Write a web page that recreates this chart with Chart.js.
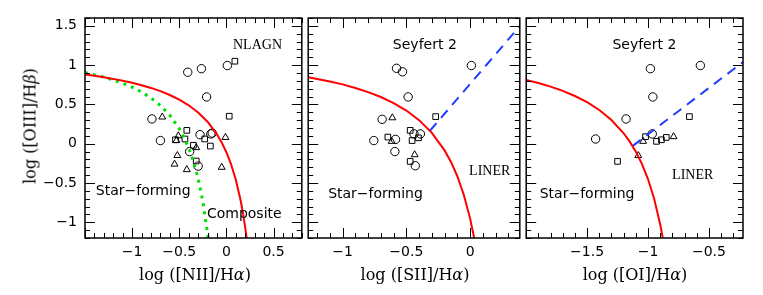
<!DOCTYPE html>
<html>
<head>
<meta charset="utf-8">
<script src="https://cdn.jsdelivr.net/npm/chart.js@4.4.0/dist/chart.umd.min.js"></script>
<style>
  body { margin: 0; background: #fff; width: 763px; height: 295px; position: relative; overflow: hidden; }
  canvas { position: absolute; top: 0; }
  .t { position: absolute; font-family: "DejaVu Serif"; font-size: 16px; color: #000; white-space: nowrap; transform: translate(-50%, -50%); }
</style>
</head>
<body>
<canvas id="c1" width="307" height="295" style="left:0"></canvas>
<canvas id="c2" width="222" height="295" style="left:303px"></canvas>
<canvas id="c3" width="242" height="295" style="left:521px"></canvas>

<div class="t" style="left:30px;top:126px;transform:translate(-50%,-50%) rotate(-90deg)">log ([OIII]/H<i>β</i>)</div>
<div class="t" style="left:195px;top:274px">log ([NII]/H<i>α</i>)</div>
<div class="t" style="left:415px;top:274px">log ([SII]/H<i>α</i>)</div>
<div class="t" style="left:635px;top:274px">log ([OI]/H<i>α</i>)</div>

<script>
// tick labels
const yTicks = [-1, -0.5, 0, 0.5, 1, 1.5];
const niiTicks = [-1, -0.5, 0, 0.5];
const siiTicks = [-1, -0.5, 0];
const oiTicks = [-1.5, -1, -0.5];

// [NII] panel, [x, y]
const niiCircles = [[-0.41, 0.91], [-0.265, 0.955], [0.01, 0.995], [-0.21, 0.595], [-0.79, 0.315],
  [-0.70, 0.04], [-0.28, 0.115], [-0.165, 0.125], [-0.15, 0.135], [-0.39, -0.10], [-0.30, -0.285]];
const niiSquares = [[0.09, 1.05], [0.03, 0.35], [-0.42, 0.17], [-0.54, 0.05], [-0.44, 0.06],
  [-0.35, -0.02], [-0.23, 0.06], [-0.17, -0.03], [-0.32, -0.22]];
const niiTriangles = [[-0.68, 0.34], [-0.51, 0.10], [-0.53, 0.04], [-0.32, -0.05], [-0.01, 0.08],
  [-0.52, -0.15], [-0.55, -0.26], [-0.42, -0.33], [-0.05, -0.30]];

// [SII] panel
const siiCircles = [[-0.577, 0.96], [-0.53, 0.915], [0.01, 0.995], [-0.486, 0.595], [-0.69, 0.31],
  [-0.755, 0.04], [-0.585, 0.055], [-0.59, -0.10], [-0.43, -0.28], [-0.44, 0.125], [-0.39, 0.125]];
const siiSquares = [[-0.27, 0.345], [-0.645, 0.085], [-0.47, 0.17], [-0.455, 0.04], [-0.405, 0.075], [-0.47, -0.225]];
const siiTriangles = [[-0.61, 0.33], [-0.615, 0.03], [-0.435, -0.14]];

// [OI] panel
const oiCircles = [[-0.98, 0.955], [-0.57, 0.995], [-0.96, 0.595], [-1.18, 0.315], [-1.43, 0.06], [-0.965, 0.125]];
const oiSquares = [[-0.66, 0.345], [-1.02, 0.09], [-0.93, 0.03], [-0.89, 0.05], [-0.85, 0.08], [-1.25, -0.225]];
const oiTriangles = [[-1.04, 0.03], [-0.79, 0.09], [-1.08, -0.15]];

// dividing lines
const niiMaxStarburst = [[-1.5, 0.88], [-1.4, 0.864], [-1.3, 0.845], [-1.2, 0.825], [-1.1, 0.801], [-1.0, 0.775],
  [-0.9, 0.745], [-0.8, 0.71], [-0.7, 0.669], [-0.6, 0.62], [-0.5, 0.561], [-0.4, 0.489], [-0.3, 0.398],
  [-0.2, 0.28], [-0.1, 0.12], [-0.05, 0.017], [0, -0.108], [0.05, -0.262], [0.1, -0.459], [0.15, -0.716],
  [0.175, -0.878], [0.2, -1.069], [0.215, -1.202]];
const niiPureStarForming = [[-1.5, 0.906], [-1.3, 0.848], [-1.1, 0.77], [-1.0, 0.72], [-0.9, 0.658], [-0.8, 0.582],
  [-0.7, 0.487], [-0.6, 0.362], [-0.5, 0.191], [-0.45, 0.08], [-0.4, -0.056], [-0.35, -0.225], [-0.3, -0.443],
  [-0.25, -0.733], [-0.2, -1.14], [-0.194, -1.2]];
const siiMaxStarburst = [[-1.27, 0.847], [-1.1, 0.793], [-1.0, 0.755], [-0.9, 0.71], [-0.8, 0.657], [-0.7, 0.594],
  [-0.6, 0.517], [-0.5, 0.422], [-0.4, 0.3], [-0.3, 0.139], [-0.2, -0.085], [-0.15, -0.232], [-0.1, -0.414],
  [-0.05, -0.646], [0, -0.95], [0.032, -1.2]];
const siiSeyfertLiner = [[-0.315, 0.165], [0.39, 1.497]];
const oiMaxStarburst = [[-2.0, 0.812], [-1.9, 0.773], [-1.8, 0.727], [-1.7, 0.672], [-1.6, 0.607], [-1.5, 0.528],
  [-1.4, 0.429], [-1.3, 0.302], [-1.2, 0.133], [-1.15, 0.026], [-1.1, -0.101], [-1.05, -0.257], [-1.0, -0.45],
  [-0.95, -0.698], [-0.9, -1.025], [-0.879, -1.196]];
const oiSeyfertLiner = [[-1.125, -0.028], [-0.22, 1.04]];

const pts = a => a.map(p => ({ x: p[0], y: p[1] }));
const minus = v => String(v).replace('-', '\u2212');

function marks(circles, squares, triangles) {
  const base = { borderColor: '#000', backgroundColor: 'rgba(0,0,0,0)', borderWidth: 1, showLine: false };
  return [
    Object.assign({ data: pts(circles), pointStyle: 'circle', pointRadius: 4.2 }, base),
    Object.assign({ data: pts(squares), pointStyle: 'rect', pointRadius: 4 }, base),
    Object.assign({ data: pts(triangles), pointStyle: 'triangle', pointRadius: 4 }, base)
  ];
}

function curve(line, color, width, dash) {
  return { data: pts(line), showLine: true, borderColor: color, borderWidth: width,
    borderDash: dash || [], pointRadius: 0, fill: false, tension: 0 };
}

// box with inward major/minor ticks on all four sides
const frameTicks = {
  id: 'frameTicks',
  afterDraw(chart) {
    const { ctx, chartArea: a, scales: { x, y } } = chart;
    ctx.save();
    ctx.strokeStyle = '#000';
    ctx.lineWidth = 1;
    ctx.beginPath();
    for (let v = Math.ceil(x.min * 10 - 1e-6); v <= Math.floor(x.max * 10 + 1e-6); v++) {
      const px = Math.round(x.getPixelForValue(v / 10)) + 0.5;
      const len = v % 5 === 0 ? 10 : 5;
      ctx.moveTo(px, a.bottom); ctx.lineTo(px, a.bottom - len);
      ctx.moveTo(px, a.top); ctx.lineTo(px, a.top + len);
    }
    for (let v = Math.ceil(y.min * 10 - 1e-6); v <= Math.floor(y.max * 10 + 1e-6); v++) {
      const py = Math.round(y.getPixelForValue(v / 10)) + 0.5;
      const len = v % 5 === 0 ? 10 : 5;
      ctx.moveTo(a.left, py); ctx.lineTo(a.left + len, py);
      ctx.moveTo(a.right, py); ctx.lineTo(a.right - len, py);
    }
    ctx.stroke();
    ctx.lineWidth = 1.5;
    ctx.strokeRect(a.left, a.top, a.right - a.left, a.bottom - a.top);
    ctx.restore();
  }
};

function notes(items) {
  return {
    id: 'notes',
    afterDatasetsDraw(chart) {
      const { ctx, scales: { x, y } } = chart;
      ctx.save();
      ctx.fillStyle = '#000';
      ctx.textAlign = 'center';
      ctx.textBaseline = 'middle';
      items.forEach(n => {
        ctx.font = n[3];
        ctx.fillText(n[0], x.getPixelForValue(n[1]), y.getPixelForValue(n[2]));
      });
      ctx.restore();
    }
  };
}

const sans = '14px "DejaVu Sans"';
const serif = '14px "Liberation Serif"';

function panel(id, xMin, xMax, xTicks, showY, pad, datasets, labels) {
  new Chart(document.getElementById(id), {
    type: 'scatter',
    data: { datasets: datasets },
    options: {
      responsive: false,
      animation: false,
      layout: { padding: pad },
      plugins: { legend: { display: false }, tooltip: { enabled: false } },
      scales: {
        x: {
          type: 'linear', min: xMin, max: xMax,
          afterBuildTicks: s => { s.ticks = xTicks.map(v => ({ value: v })); },
          afterFit: s => { s.height = 57; },
          grid: { display: false, drawTicks: false },
          border: { display: false },
          ticks: { padding: 6, color: '#000', font: { family: 'DejaVu Sans', size: 14 }, callback: minus, maxRotation: 0 }
        },
        y: {
          type: 'linear', min: -1.2, max: 1.6, display: showY,
          afterBuildTicks: s => { s.ticks = yTicks.map(v => ({ value: v })); },
          afterFit: s => { s.width = showY ? 85 : 0; },
          grid: { display: false, drawTicks: false },
          border: { display: false },
          ticks: { padding: 8, color: '#000', font: { family: 'DejaVu Sans', size: 14 }, callback: minus }
        }
      }
    },
    plugins: [frameTicks, notes(labels)]
  });
}

panel('c1', -1.5, 0.8, niiTicks, true, { top: 18, right: 2, left: 0, bottom: 0 },
  [curve(niiMaxStarburst, '#ff0000', 2), curve(niiPureStarForming, '#00e000', 3, [3, 5])]
    .concat(marks(niiCircles, niiSquares, niiTriangles)),
  [['NLAGN', 0.33, 1.25, serif], ['Star\u2212forming', -0.883, -0.61, sans], ['Composite', 0.19, -0.9, sans]]);

panel('c2', -1.27, 0.39, siiTicks, false, { top: 18, right: 2, left: 2, bottom: 0 },
  [curve(siiMaxStarburst, '#ff0000', 2), curve(siiSeyfertLiner, '#1f3cff', 2, [10, 7])]
    .concat(marks(siiCircles, siiSquares, siiTriangles)),
  [['Seyfert 2', -0.355, 1.25, sans], ['LINER', 0.154, -0.35, serif], ['Star\u2212forming', -0.742, -0.65, sans]]);

panel('c3', -2.0, -0.22, oiTicks, false, { top: 18, right: 20, left: 2, bottom: 0 },
  [curve(oiMaxStarburst, '#ff0000', 2), curve(oiSeyfertLiner, '#1f3cff', 2, [10, 7])]
    .concat(marks(oiCircles, oiSquares, oiTriangles)),
  [['Seyfert 2', -1.03, 1.25, sans], ['LINER', -0.633, -0.4, serif], ['Star\u2212forming', -1.5, -0.65, sans]]);
</script>
</body>
</html>
